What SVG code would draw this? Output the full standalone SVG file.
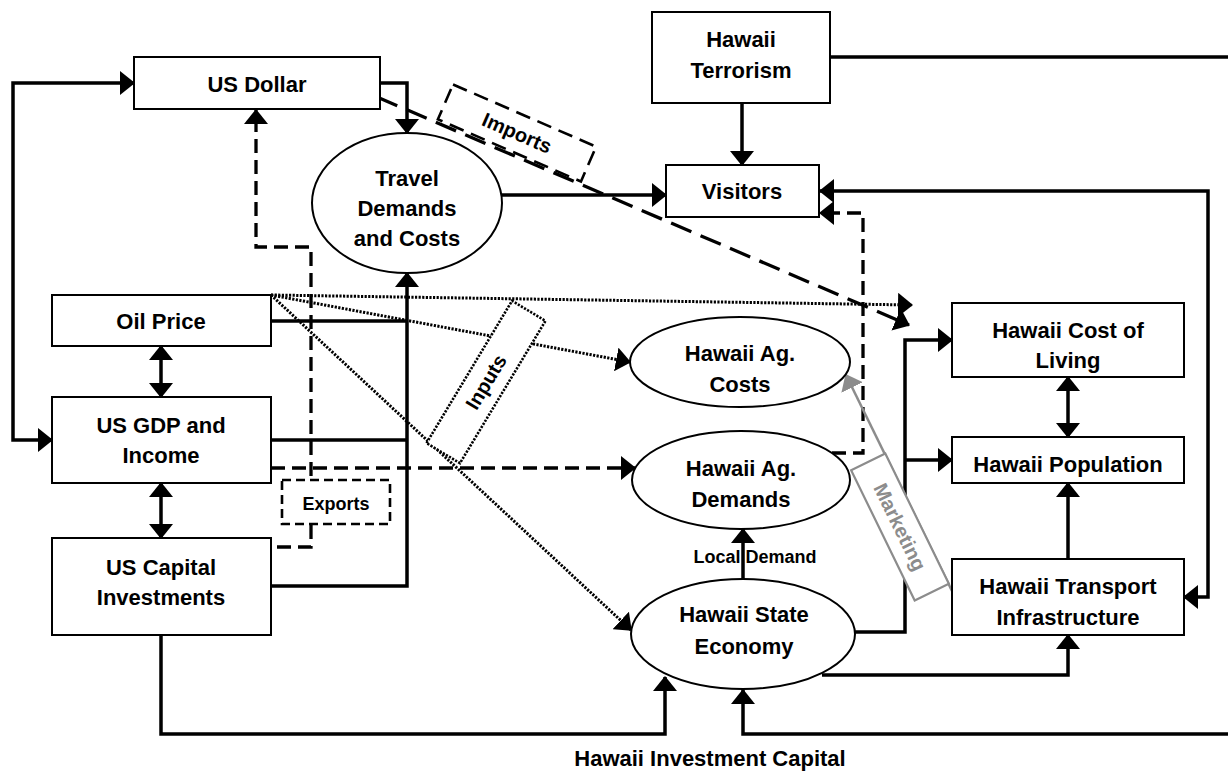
<svg xmlns="http://www.w3.org/2000/svg" width="1228" height="775" viewBox="0 0 1228 775">
<defs>
<style>
.box{fill:#fff;stroke:#000;stroke-width:2}
.ell{fill:#fff;stroke:#000;stroke-width:2}
.t{font-family:"Liberation Sans",Arial,sans-serif;font-weight:bold;font-size:22px;fill:#000;text-anchor:middle}
.ts{font-size:18px}
.tl{font-size:20px}
.solid{fill:none;stroke:#000;stroke-width:3.5}
.dash{fill:none;stroke:#000;stroke-width:3.3;stroke-dasharray:14,7}
.ldash{fill:none;stroke:#000;stroke-width:3.3;stroke-dasharray:22,10}
.dot{fill:none;stroke:#000;stroke-width:3;stroke-dasharray:2.2,1.4}
.gray{fill:none;stroke:#8c8c8c;stroke-width:2.5}
.a{marker-end:url(#ah)}
.aa{marker-start:url(#ah);marker-end:url(#ah)}
</style>
<marker id="ah" markerUnits="userSpaceOnUse" markerWidth="15" markerHeight="24" refX="14" refY="12" orient="auto-start-reverse" viewBox="0 0 15 24">
<path d="M0,0 L15,12 L0,24 z" fill="#000"/>
</marker>
<marker id="ahg" markerUnits="userSpaceOnUse" markerWidth="15" markerHeight="24" refX="14" refY="12" orient="auto" viewBox="0 0 15 24">
<path d="M0,0 L15,12 L0,24 z" fill="#8c8c8c"/>
</marker>
</defs>
<rect width="1228" height="775" fill="#fff"/>

<g id="connectors">
<path class="solid aa" d="M134,83 H13 V440 H52"/>
<path class="solid a" d="M380,83 H407 V133"/>
<path class="solid a" d="M742,103 V165"/>
<path class="solid a" d="M502,195 H666"/>
<path class="solid aa" d="M820,191 H1208 V597 H1184"/>
<path class="dash a" d="M832,453 H863 V213 H820"/>
<path class="ldash a" d="M377,97 L909,325"/>
<path class="dot a" d="M271,295 L912,305"/>
<path class="dot a" d="M271,295 L630,362"/>
<path class="dot a" d="M271,295 L631,630"/>
<path class="solid" d="M271,321 H407"/>
<path class="solid" d="M271,440 H407"/>
<path class="solid a" d="M271,586 H407 V273"/>
<path class="solid aa" d="M161,346 V397"/>
<path class="solid aa" d="M161,483 V538"/>
<path class="dash a" d="M271,468 H635"/>
<path class="dash a" d="M277,547 H311 V247 H256 V110"/>
<path class="solid a" d="M161,635 V734 H665 V677"/>
<path class="solid a" d="M830,57 H1240 V734 H743 V690"/>
<path class="solid a" d="M743,579 V529"/>
<path class="solid a" d="M855,632 H905 V340 H952"/>
<path class="solid a" d="M905,460 H952"/>
<path class="solid a" d="M822,675 H1068 V635"/>
<path class="solid aa" d="M1068,377 V437"/>
<path class="solid a" d="M1068,559 V483"/>
<path class="gray" d="M952,591 L846,375" marker-end="url(#ahg)"/>
<text class="t ts" x="755" y="563">Local Demand</text>
<text class="t" x="710" y="766">Hawaii Investment Capital</text>
</g>

<g id="label-imports" transform="translate(517,133) rotate(23.5)">
<rect x="-78" y="-19" width="156" height="38" fill="none" stroke="#000" stroke-width="2.6" stroke-dasharray="15,8"/>
<text class="t tl" x="0" y="7">Imports</text>
</g>
<g id="label-inputs" transform="translate(486,382) rotate(-59)">
<rect x="-83" y="-19.5" width="166" height="39" fill="#fff" stroke="#000" stroke-width="2.6" stroke-dasharray="2.2,1.4"/>
<text class="t tl" x="0" y="7">Inputs</text>
</g>
<g id="label-exports">
<rect x="282" y="480" width="108" height="44" fill="#fff" stroke="#000" stroke-width="2.6" stroke-dasharray="9,5"/>
<text class="t ts" x="336" y="510">Exports</text>
</g>
<g id="label-marketing" transform="translate(900,527) rotate(64)">
<rect x="-72.5" y="-19" width="145" height="38" fill="#fff" stroke="#8c8c8c" stroke-width="2.2"/>
<text class="t tl" x="0" y="7" style="fill:#8c8c8c">Marketing</text>
</g>

<g id="us-dollar"><rect class="box" x="134" y="57" width="246" height="52"/><text class="t" x="257" y="92">US Dollar</text></g>
<g id="hawaii-terrorism"><rect class="box" x="652" y="12" width="178" height="91"/><text class="t" x="741" y="47">Hawaii</text><text class="t" x="741" y="78">Terrorism</text></g>
<g id="visitors"><rect class="box" x="666" y="165" width="153" height="52"/><text class="t" x="742" y="199">Visitors</text></g>
<g id="travel"><ellipse class="ell" cx="407" cy="203" rx="95" ry="70"/><text class="t" x="407" y="186">Travel</text><text class="t" x="407" y="216">Demands</text><text class="t" x="407" y="246">and Costs</text></g>
<g id="oil-price"><rect class="box" x="52" y="295" width="219" height="51"/><text class="t" x="161" y="329">Oil Price</text></g>
<g id="us-gdp"><rect class="box" x="52" y="397" width="219" height="86"/><text class="t" x="161" y="433">US GDP and</text><text class="t" x="161" y="463">Income</text></g>
<g id="us-capital"><rect class="box" x="52" y="538" width="219" height="97"/><text class="t" x="161" y="575">US Capital</text><text class="t" x="161" y="605">Investments</text></g>
<g id="ag-costs"><ellipse class="ell" cx="740" cy="362" rx="110" ry="45"/><text class="t" x="740" y="361">Hawaii Ag.</text><text class="t" x="740" y="392">Costs</text></g>
<g id="ag-demands"><ellipse class="ell" cx="741" cy="480" rx="109" ry="49"/><text class="t" x="741" y="476">Hawaii Ag.</text><text class="t" x="741" y="507">Demands</text></g>
<g id="state-economy"><ellipse class="ell" cx="743" cy="634" rx="112" ry="55"/><text class="t" x="744" y="622">Hawaii State</text><text class="t" x="744" y="654">Economy</text></g>
<g id="cost-of-living"><rect class="box" x="952" y="303" width="232" height="74"/><text class="t" x="1068" y="338">Hawaii Cost of</text><text class="t" x="1068" y="368">Living</text></g>
<g id="population"><rect class="box" x="952" y="437" width="232" height="46"/><text class="t" x="1068" y="472">Hawaii Population</text></g>
<g id="transport"><rect class="box" x="952" y="559" width="232" height="76"/><text class="t" x="1068" y="594">Hawaii Transport</text><text class="t" x="1068" y="625">Infrastructure</text></g>
</svg>
